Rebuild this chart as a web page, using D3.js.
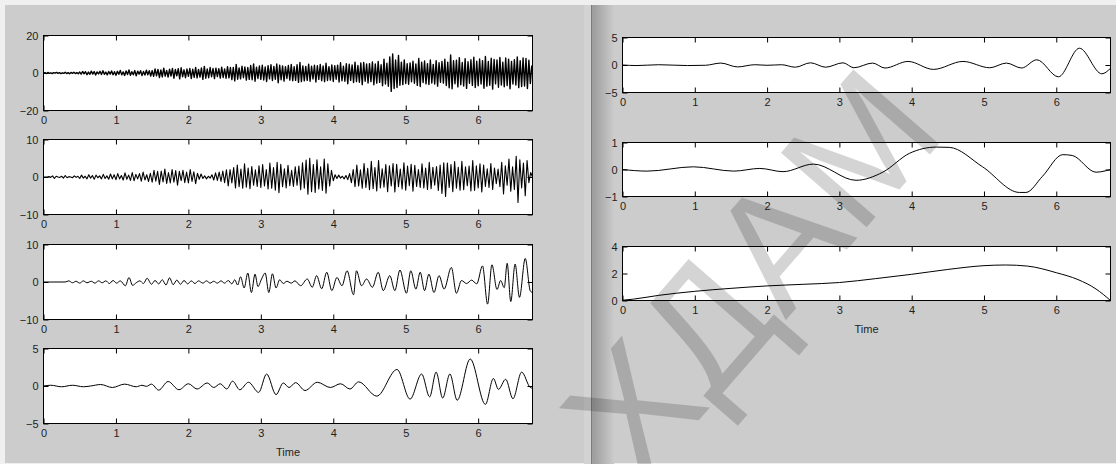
<!DOCTYPE html>
<html>
<head>
<meta charset="utf-8">
<script src="https://cdn.jsdelivr.net/npm/d3@7"></script>
<style>
  body { margin: 0; background: #f0f0f0; }
  svg { display: block; }
  text { font-family: "Liberation Sans", Arial, sans-serif; }
</style>
</head>
<body>
<svg id="fig" width="1116" height="464"></svg>
<script>
// ---- shared axis data ----
const timeTicks = [0, 1, 2, 3, 4, 5, 6];
const tMax = 6.75;

// ---- level-1 detail (uniform samples, step d1Step) ----
const d1Step = 0.02;
const d1Values = [
  0,0.2,-0.3,0.3,-0.2,0.1,-0.3,0.2,-0.1,0.3,-0.2,0.2,-0.3,0.1,-0.2,0.4,-0.3,0.2,-0.4,0.3,-0.2,0.4,-0.3,0.2,-0.4,
  0.5,-0.6,0.8,-0.4,0.7,-0.9,0.5,-0.7,1.0,-0.6,0.8,-1.1,0.6,-0.5,0.9,-0.8,1.2,-0.7,0.5,-1.0,0.8,-0.6,1.1,-0.9,0.7,
  -1.2,0.9,-0.7,1.4,-1.0,0.6,-1.3,1.1,-0.8,1.6,-1.2,0.7,-0.9,1.3,-1.5,1.0,-0.6,1.2,-1.4,0.8,-1.1,1.5,-0.9,1.2,-1.6,
  1.3,-1.8,2.2,-1.5,1.9,-2.4,1.6,-2.1,2.6,-1.7,1.4,-2.2,2.0,-1.6,2.4,-2.8,1.9,-1.5,2.3,-3.1,2.8,-2.0,1.7,-2.5,2.1,
  -1.8,2.4,-2.9,2.0,-2.3,3.0,-2.6,1.9,-2.2,2.7,-3.4,3.5,-2.8,2.1,-2.5,2.9,-2.0,2.4,-3.0,2.6,-1.9,2.3,-2.7,3.1,-2.4,
  2.2,-2.8,3.4,-2.6,2.9,-3.5,3.0,-4.2,4.6,-3.3,2.7,-3.1,3.6,-2.5,3.2,-3.8,2.9,-3.4,4.0,-3.6,4.8,-4.4,3.1,-2.9,3.7,
  -3.4,4.1,-3.7,3.2,-4.5,3.9,-3.1,4.4,-4.0,3.5,-3.3,4.8,-5.2,4.2,-3.6,3.8,-4.3,3.4,-2.9,4.0,-3.8,4.6,-4.1,3.3,-3.9,
  4.4,-5.0,5.6,-4.6,3.8,-4.2,3.5,-3.9,4.7,-4.4,3.6,-3.2,4.1,-4.8,3.9,-3.4,4.5,-4.1,3.7,-4.6,5.2,-4.0,3.4,-3.8,4.3,
  -4.5,3.9,-3.3,4.2,-4.8,5.5,-4.1,3.6,-4.4,4.9,-5.7,4.7,-3.9,4.3,-5.1,5.8,-4.6,4.0,-4.9,5.3,-6.2,5.6,-4.4,4.8,-5.3,
  5.0,-4.6,5.9,-6.3,4.8,-5.4,6.1,-5.0,4.4,-6.8,7.4,-5.9,5.2,-7.1,8.6,-9.8,10.2,-8.3,6.9,-7.7,9.4,-6.5,5.8,-6.2,7.0,
  -5.6,4.9,-6.0,5.4,-4.7,6.3,-5.5,4.8,-6.6,7.8,-7.2,5.7,-5.1,6.4,-5.8,5.0,-6.1,6.9,-5.3,4.6,-5.9,6.6,-7.0,5.5,-4.9,
  6.2,-5.4,7.3,-6.7,5.8,-7.9,9.6,-8.4,6.5,-5.7,6.8,-7.4,8.1,-6.3,5.6,-6.9,7.6,-8.2,6.0,-5.5,7.1,-6.6,8.4,-7.7,6.3,
  -6.8,7.5,-5.9,6.6,-8.1,8.8,-7.0,6.1,-6.5,7.9,-8.6,7.2,-5.8,6.9,-7.6,8.3,-6.4,5.7,-7.3,8.0,-6.7,7.4,-8.4,6.2,-5.9,
  7.1,-6.4,8.6,-7.8,6.5,-7.2,8.0,-6.9,7.7,-8.3,6.8,-5.6,4.0
];

// ---- level-2 detail (uniform samples, step d2Step) ----
const d2Step = 0.025;
const d2Values = [
  0,0,0,0.1,-0.1,0.3,-0.4,0.2,0,-0.1,0.2,-0.3,0.4,-0.2,0.1,0,-0.2,0.3,-0.1,0.2,
  -0.4,0.5,-0.3,0.2,-0.5,0.6,-0.3,0.4,-0.6,0.5,-0.2,0.3,-0.5,0.7,-0.4,0.3,-0.6,0.8,-0.5,0.6,
  -0.7,0.9,-0.5,0.4,-0.8,1.1,-0.6,0.5,-0.9,1.2,-1.0,0.7,-0.5,0.9,-1.1,1.3,-0.8,0.6,-1.2,1.0,
  -1.4,1.8,-1.1,1.5,-2.0,1.6,-1.3,2.1,-1.7,1.2,-1.6,2.0,-1.4,1.7,-2.2,1.5,-1.0,1.8,-1.5,1.3,
  -1.6,2.0,-1.2,1.4,-1.8,1.0,-0.6,0.8,-0.4,0.3,-0.5,0.2,-0.3,0.6,-0.8,1.1,-0.9,1.3,-1.2,1.6,
  -1.5,1.9,-2.4,2.0,-1.6,2.5,-2.9,3.2,-2.6,2.1,-3.0,3.5,-2.7,2.4,-3.1,2.8,-2.2,1.9,-2.5,3.0,
  -2.8,3.3,-2.4,2.0,-3.2,3.7,-3.0,2.5,-3.5,3.9,-4.2,3.4,-2.6,2.2,-2.9,3.1,-2.3,1.8,-2.5,2.7,
  -2.2,2.9,-3.4,3.8,-3.0,4.5,-4.6,5.0,-3.9,3.3,-4.1,4.6,-3.2,2.7,-3.6,4.8,-4.3,3.5,-2.4,1.8,
  -1.0,0.6,-0.4,0.5,-0.3,0.2,-0.5,0.4,-0.7,0.9,-1.5,2.0,-2.6,3.2,-2.4,1.9,-3.0,3.6,-2.8,2.3,
  -3.4,4.2,-3.1,2.5,-3.7,4.4,-2.9,2.2,-2.7,3.3,-3.9,3.0,-2.4,3.6,-4.0,3.4,-2.6,2.1,-3.2,3.8,
  -3.5,2.9,-2.3,3.4,-3.8,3.1,-2.5,2.0,-2.8,3.5,-2.9,2.4,-3.3,3.9,-3.1,2.6,-2.2,2.8,-3.6,3.2,
  -4.4,3.8,-5.2,3.7,-2.8,3.3,-3.9,4.1,-3.0,2.6,-3.5,4.2,-3.4,2.7,-2.3,2.9,-3.7,4.4,-3.6,3.0,
  -2.9,3.5,-4.0,3.2,-2.5,2.2,-2.8,3.6,-3.3,2.4,-1.8,2.1,-2.6,3.9,-4.5,3.0,-2.2,4.8,-3.8,2.7,
  -3.3,5.5,-6.8,4.6,-2.9,3.7,-5.0,4.4,-1.5,1.2,0
];

// ---- level-3 detail (turning points) ----
const d3Times = [0,0.3,0.35,0.4,0.45,0.5,0.55,0.6,0.66,0.71,0.76,0.81,0.86,0.91,0.96,1.01,1.06,1.13,1.18,1.23,
  1.28,1.33,1.38,1.43,1.49,1.54,1.59,1.64,1.69,1.74,1.79,1.84,1.89,1.94,1.99,2.04,2.09,2.14,2.2,2.25,
  2.3,2.35,2.4,2.45,2.5,2.55,2.6,2.64,2.68,2.72,2.77,2.82,2.87,2.92,2.96,3.01,3.06,3.11,3.16,3.21,
  3.26,3.31,3.36,3.42,3.47,3.55,3.64,3.71,3.77,3.84,3.91,3.98,4.05,4.12,4.19,4.28,4.32,4.39,4.46,4.54,
  4.62,4.69,4.78,4.85,4.92,5.01,5.07,5.14,5.2,5.26,5.32,5.39,5.46,5.53,5.63,5.7,5.77,5.84,5.91,5.98,
  6.06,6.13,6.19,6.26,6.31,6.36,6.4,6.45,6.51,6.57,6.65,6.72,6.75];
const d3Values = [0,0,0.3,-0.2,0.2,-0.3,0.3,-0.2,0.2,-0.3,0.3,-0.2,0.3,-0.4,0.4,-0.3,0.3,-1.0,1.2,-0.9,
  -0.2,0.3,-0.4,1.0,-0.6,0.4,-0.5,0.6,-0.8,1.1,-0.7,0.5,-0.6,0.4,-0.5,0.3,-0.4,0.3,-0.3,0.3,
  -0.3,0.2,-0.3,0.3,-0.3,0.4,-0.5,0.6,-0.8,1.4,-1.6,2.4,-2.8,2.1,-1.2,0.8,2.4,-2.8,2.2,-1.6,
  0.6,-0.4,0.2,-0.3,0.3,-1.0,0.8,-1.4,1.7,-1.8,2.6,-2.3,1.2,-1.0,3.0,-3.4,3.0,-1.0,0.8,-1.4,
  2.6,-2.3,1.7,-2.3,3.2,-3.0,3.0,-1.9,2.6,-2.3,2.1,-2.8,1.7,-1.9,3.9,-3.0,0.4,-0.4,0.5,-0.5,
  4.3,-5.9,4.6,-2.0,0.4,-1.5,5.0,-5.2,4.8,-4.1,6.3,-2.4,-2.8];

// ---- level-4 detail (turning points) ----
const d4Times = [0,0.1,0.25,0.4,0.55,0.65,0.79,0.95,1.12,1.28,1.36,1.42,1.49,1.59,1.72,1.87,2.0,2.12,2.26,2.35,
  2.44,2.53,2.61,2.71,2.83,2.97,3.08,3.21,3.31,3.39,3.48,3.61,3.78,3.96,4.1,4.23,4.35,4.6,4.88,5.06,
  5.22,5.33,5.42,5.51,5.61,5.71,5.89,6.1,6.21,6.28,6.38,6.48,6.6,6.72,6.75];
const d4Values = [0,0.1,-0.1,0.1,-0.1,0,0.2,-0.2,0.25,-0.1,0.1,-0.05,0.25,-0.55,0.6,-0.5,0.3,-0.4,0.4,-0.2,
  0.3,-0.4,0.65,-0.5,0.5,-0.85,1.6,-1.15,0.4,-0.2,0.45,-0.6,0.5,-0.2,0.3,-0.4,0.55,-1.35,2.2,-1.75,
  1.6,-1.45,1.85,-1.6,1.6,-1.9,3.6,-2.45,1.0,-0.45,0.9,-1.7,1.85,-0.2,-0.3];

// ---- level-5 detail ----
const d5Times = [0,0.2,0.5,0.9,1.15,1.36,1.59,1.83,2.0,2.2,2.39,2.6,2.81,3.05,3.2,3.46,3.63,3.95,4.3,4.71,
  5.08,5.31,5.52,5.73,6.03,6.32,6.63,6.75];
const d5Values = [0,-0.1,0.05,-0.1,-0.05,0.35,-0.35,0.05,-0.05,0.05,-0.4,0.4,-0.4,0.4,-0.5,0.35,-0.55,0.65,-0.8,0.65,
  -0.5,0.35,-0.55,0.95,-2.15,3.05,-1.6,-0.6];

// ---- level-6 detail ----
const d6Times = [0,0.34,0.98,1.54,1.9,2.22,2.64,3.23,3.6,3.97,4.34,4.52,4.98,5.49,5.58,5.81,6.09,6.22,6.55,6.68,6.75];
const d6Values = [0,-0.06,0.1,-0.06,0.04,-0.08,0.2,-0.4,-0.1,0.6,0.83,0.82,0.1,-0.85,-0.85,-0.25,0.55,0.52,-0.1,-0.05,0];

// ---- approximation ----
const a6Times = [0,0.15,0.5,1,1.5,2,2.5,3,3.5,4,4.5,5,5.3,5.6,6,6.3,6.55,6.75];
const a6Values = [0.02,0.1,0.38,0.68,0.9,1.08,1.2,1.33,1.62,1.94,2.3,2.58,2.63,2.55,2.06,1.55,0.85,0];

const yTicksL1 = [-20, 0, 20];
const yTicksL2 = [-10, 0, 10];
const yTicksL3 = [-10, 0, 10];
const yTicksL4 = [-5, 0, 5];
const yTicksR1 = [-5, 0, 5];
const yTicksR2 = [-1, 0, 1];
const yTicksR3 = [0, 2, 4];
const xLabel = "Time";
const watermark = "ХДАМ";

const uniform = (vals, step) => vals.map((v, i) => i * step);

const svg = d3.select("#fig");

// figure backgrounds
svg.append("rect").attr("x", 5).attr("y", 5).attr("width", 1111).attr("height", 458).attr("fill", "#cccccc");

// divider between the two figure windows
const defs = svg.append("defs");
const grad = defs.append("linearGradient").attr("id", "shade").attr("x1", 0).attr("x2", 1).attr("y1", 0).attr("y2", 0);
grad.append("stop").attr("offset", 0).attr("stop-color", "#9c9c9c");
grad.append("stop").attr("offset", 1).attr("stop-color", "#cccccc");
svg.append("rect").attr("x", 584).attr("y", 5).attr("width", 7).attr("height", 459).attr("fill", "#d3d3d3");
svg.append("rect").attr("x", 591).attr("y", 5).attr("width", 1.5).attr("height", 459).attr("fill", "#7c7c7c");
svg.append("rect").attr("x", 592.5).attr("y", 5).attr("width", 22).attr("height", 459).attr("fill", "url(#shade)");

let clipId = 0;
function panel(box, yTicks, ts, vs, curve, label, width) {
  const x = d3.scaleLinear().domain([0, tMax]).range([box.x, box.x + box.w]);
  const y = d3.scaleLinear().domain([yTicks[0], yTicks[yTicks.length - 1]]).range([box.y + box.h, box.y]);
  const g = svg.append("g");
  g.append("rect").attr("x", box.x).attr("y", box.y).attr("width", box.w).attr("height", box.h).attr("fill", "#ffffff");

  const id = "clip" + (clipId++);
  defs.append("clipPath").attr("id", id).append("rect")
    .attr("x", box.x).attr("y", box.y).attr("width", box.w).attr("height", box.h);
  const line = d3.line().x((d, i) => x(ts[i])).y(d => y(d)).curve(curve);
  g.append("path").attr("clip-path", `url(#${id})`).attr("d", line(vs))
    .attr("fill", "none").attr("stroke", "#000").attr("stroke-width", width || 1).attr("stroke-linejoin", "round");

  const style = sel => {
    sel.select(".domain").remove();
    sel.selectAll(".tick line").attr("stroke", "#000");
    sel.selectAll("text").attr("font-size", 11).attr("fill", "#1e1e1e")
      .attr("font-family", '"Liberation Sans", Arial, sans-serif');
    sel.attr("font-size", null).attr("font-family", null);
  };
  g.append("g").attr("transform", `translate(0,${box.y + box.h})`)
    .call(d3.axisBottom(x).tickValues(timeTicks).tickSizeInner(-5).tickSizeOuter(0).tickPadding(6).tickFormat(d3.format("d")))
    .call(style);
  g.append("g").attr("transform", `translate(0,${box.y})`)
    .call(d3.axisTop(x).tickValues(timeTicks).tickSizeInner(-5).tickSizeOuter(0).tickFormat(""))
    .call(style);
  g.append("g").attr("transform", `translate(${box.x},0)`)
    .call(d3.axisLeft(y).tickValues(yTicks).tickSizeInner(-5).tickSizeOuter(0).tickPadding(5).tickFormat(d3.format("d")))
    .call(style);
  g.append("g").attr("transform", `translate(${box.x + box.w},0)`)
    .call(d3.axisRight(y).tickValues(yTicks).tickSizeInner(-5).tickSizeOuter(0).tickFormat(""))
    .call(style);

  g.append("rect").attr("x", box.x).attr("y", box.y).attr("width", box.w).attr("height", box.h)
    .attr("fill", "none").attr("stroke", "#000").attr("stroke-width", 1);

  if (label) {
    g.append("text").attr("x", box.x + box.w / 2).attr("y", box.y + box.h + 32)
      .attr("text-anchor", "middle").attr("font-size", 11).attr("fill", "#1e1e1e").text(label);
  }
}

// left window: detail levels 1-4
panel({x: 43.5, y: 35.5, w: 489, h: 75}, yTicksL1, uniform(d1Values, d1Step), d1Values, d3.curveLinear, null, 1.4);
panel({x: 43.5, y: 139.5, w: 489, h: 75}, yTicksL2, uniform(d2Values, d2Step), d2Values, d3.curveLinear, null, 1.1);
panel({x: 43.5, y: 244.5, w: 489, h: 75}, yTicksL3, d3Times, d3Values, d3.curveMonotoneX);
panel({x: 43.5, y: 348.5, w: 489, h: 75}, yTicksL4, d4Times, d4Values, d3.curveMonotoneX, xLabel);

// right window: levels 5, 6 and the approximation
panel({x: 622.5, y: 37.5, w: 488, h: 55}, yTicksR1, d5Times, d5Values, d3.curveMonotoneX);
panel({x: 622.5, y: 142.5, w: 488, h: 54}, yTicksR2, d6Times, d6Values, d3.curveMonotoneX);
panel({x: 622.5, y: 246.5, w: 488, h: 54}, yTicksR3, a6Times, a6Values, d3.curveMonotoneX, xLabel);

// diagonal watermark across both windows
svg.append("text")
  .attr("transform", "translate(640,488) rotate(-49)")
  .attr("font-size", 165).attr("fill", "#000").attr("fill-opacity", 0.17)
  .text(watermark);
</script>
</body>
</html>
